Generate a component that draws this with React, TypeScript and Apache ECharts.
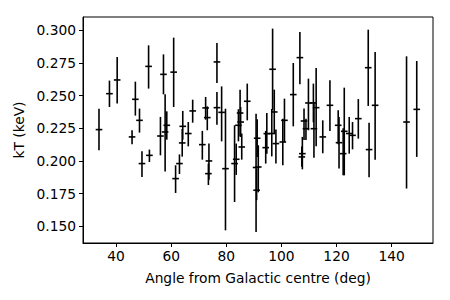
import React, { useEffect, useRef } from "react";
import * as echarts from "echarts";

// Angle from Galactic centre (deg)
const angle = [
  33.8, 37.6, 40.4, 45.8, 47.0, 48.5, 49.4, 52.1, 51.8, 57.2,
  56.1, 57.8, 58.4, 60.9, 61.6, 63.0, 64.2, 64.0, 66.2, 67.8,
  71.3, 72.5, 73.1, 73.7, 73.5, 76.6, 76.6, 78.3, 79.7, 83.0,
  84.4, 83.6, 85.0, 85.2, 85.6, 87.6, 90.8, 91.0, 91.2, 91.6,
  94.3, 94.7, 96.8, 96.5, 97.4, 98.0, 100.5, 101.1, 104.3, 106.7,
  107.6, 107.4, 108.2, 108.9, 109.8, 111.6, 111.8, 112.6, 115.0, 117.6,
  120.6, 120.9, 122.4, 122.8, 124.6, 125.8, 127.9, 131.5, 131.8, 134.0,
  145.4, 149.1,
];
// kT (keV)
const kT = [
  0.224, 0.2515, 0.262, 0.2184, 0.2472, 0.2311, 0.198, 0.2043, 0.2724, 0.2663,
  0.2191, 0.2222, 0.2273, 0.268, 0.1865, 0.198, 0.2265, 0.2138, 0.221, 0.2383,
  0.2125, 0.2406, 0.2332, 0.2, 0.1903, 0.2758, 0.2408, 0.2372, 0.1941, 0.198,
  0.2273, 0.2013, 0.2367, 0.2298, 0.2107, 0.2457, 0.195, 0.1776, 0.2174, 0.1954,
  0.2102, 0.2209, 0.2702, 0.221, 0.2375, 0.2133, 0.2145, 0.2311, 0.2508, 0.2791,
  0.2056, 0.2031, 0.2306, 0.2247, 0.2444, 0.2444, 0.2247, 0.2408, 0.2184, 0.2426,
  0.2273, 0.214, 0.2056, 0.2227, 0.221, 0.2196, 0.2324, 0.2714, 0.2087, 0.2426,
  0.2298, 0.2395,
];
// upper end of kT error bar
const kTHigh = [
  0.24, 0.2615, 0.2796, 0.2235, 0.2607, 0.2401, 0.2074, 0.2087, 0.2885, 0.2816,
  0.2337, 0.251, 0.238, 0.2944, 0.1967, 0.205, 0.2383, 0.2245, 0.2298, 0.2469,
  0.223, 0.249, 0.2418, 0.2133, 0.198, 0.2903, 0.2528, 0.2571, 0.24, 0.2273,
  0.2396, 0.2133, 0.2546, 0.2413, 0.221, 0.2592, 0.2362, 0.194, 0.232, 0.212,
  0.223, 0.2367, 0.3013, 0.2398, 0.2546, 0.224, 0.2324, 0.2477, 0.275, 0.2987,
  0.2184, 0.211, 0.2401, 0.2324, 0.263, 0.2592, 0.245, 0.2712, 0.2311, 0.2617,
  0.2388, 0.2337, 0.225, 0.2561, 0.2337, 0.2298, 0.2474, 0.3005, 0.2293, 0.2834,
  0.2801, 0.2765,
];
// lower end of kT error bar
const kTLow = [
  0.2082, 0.2413, 0.2439, 0.2128, 0.2347, 0.2217, 0.1878, 0.1992, 0.2554, 0.251,
  0.2043, 0.192, 0.2163, 0.2413, 0.1755, 0.19, 0.2163, 0.2033, 0.2112, 0.2293,
  0.201, 0.2316, 0.2235, 0.1857, 0.1816, 0.2597, 0.2278, 0.215, 0.1469, 0.1686,
  0.215, 0.1893, 0.2188, 0.2184, 0.201, 0.2311, 0.1457, 0.17, 0.203, 0.176,
  0.198, 0.2056, 0.2388, 0.2035, 0.2209, 0.198, 0.1967, 0.2145, 0.2265, 0.2587,
  0.1936, 0.1955, 0.216, 0.216, 0.2235, 0.2296, 0.2025, 0.2112, 0.2059, 0.2229,
  0.2128, 0.1942, 0.189, 0.189, 0.2056, 0.2089, 0.2171, 0.2421, 0.1875, 0.201,
  0.1789, 0.2031,
];
const ANGLE_ERR = 1.2;

const xTicks = [40, 60, 80, 100, 120, 140];
const yTicks = [0.15, 0.175, 0.2, 0.225, 0.25, 0.275, 0.3];

export default function App() {
  const ref = useRef<HTMLDivElement>(null);
  useEffect(() => {
    if (!ref.current) return;
    const chart = echarts.init(ref.current, null, { renderer: "svg" });
    const data = angle.map((a, i) => [a, kT[i], kTLow[i], kTHigh[i], ANGLE_ERR]);
    const font = "DejaVu Sans";
    const fs = 13.8;
    chart.setOption({
      animation: false,
      backgroundColor: "#fff",
      grid: {
        left: 83,
        right: 17,
        top: 17,
        bottom: 57,
        show: true,
        borderColor: "#000",
        borderWidth: 1,
        backgroundColor: "#fff",
      },
      xAxis: {
        type: "value",
        min: 28,
        max: 155,
        name: "Angle from Galactic centre (deg)",
        nameLocation: "middle",
        nameGap: 28,
        nameTextStyle: { fontFamily: font, fontSize: fs, color: "#000" },
        axisLine: { show: true, onZero: false, lineStyle: { color: "#000", width: 1 } },
        axisTick: {
          show: true,
          inside: false,
          length: 4,
          customValues: xTicks,
          lineStyle: { color: "#000", width: 1 },
        },
        axisLabel: {
          customValues: xTicks,
          margin: 6,
          fontFamily: font,
          fontSize: fs,
          color: "#000",
        },
        splitLine: { show: false },
      },
      yAxis: {
        type: "value",
        min: 0.1372,
        max: 0.3102,
        name: "kT (keV)",
        nameLocation: "middle",
        nameGap: 52,
        nameTextStyle: { fontFamily: font, fontSize: fs, color: "#000" },
        axisLine: { show: true, onZero: false, lineStyle: { color: "#000", width: 1 } },
        axisTick: {
          show: true,
          inside: false,
          length: 4,
          customValues: yTicks,
          lineStyle: { color: "#000", width: 1 },
        },
        axisLabel: {
          customValues: yTicks,
          margin: 7,
          fontFamily: font,
          fontSize: fs,
          color: "#000",
          formatter: (v: number) => v.toFixed(3),
        },
        splitLine: { show: false },
      },
      series: [
        {
          type: "custom",
          data,
          encode: { x: 0, y: 1 },
          renderItem: (params: any, api: any) => {
            const x = api.value(0);
            const y = api.value(1);
            const lo = api.value(2);
            const hi = api.value(3);
            const xe = api.value(4);
            const pLo = api.coord([x, lo]);
            const pHi = api.coord([x, hi]);
            const pL = api.coord([x - xe, y]);
            const pR = api.coord([x + xe, y]);
            const style = { stroke: "#000", lineWidth: 1.6 };
            return {
              type: "group",
              children: [
                {
                  type: "line",
                  shape: { x1: pLo[0], y1: pLo[1], x2: pHi[0], y2: pHi[1] },
                  style,
                },
                {
                  type: "line",
                  shape: { x1: pL[0], y1: pL[1], x2: pR[0], y2: pR[1] },
                  style,
                },
              ],
            };
          },
        },
      ],
    });
    return () => chart.dispose();
  }, []);
  return (
    <div
      ref={ref}
      style={{ position: "fixed", left: 0, top: 0, width: 450, height: 300 }}
    />
  );
}
